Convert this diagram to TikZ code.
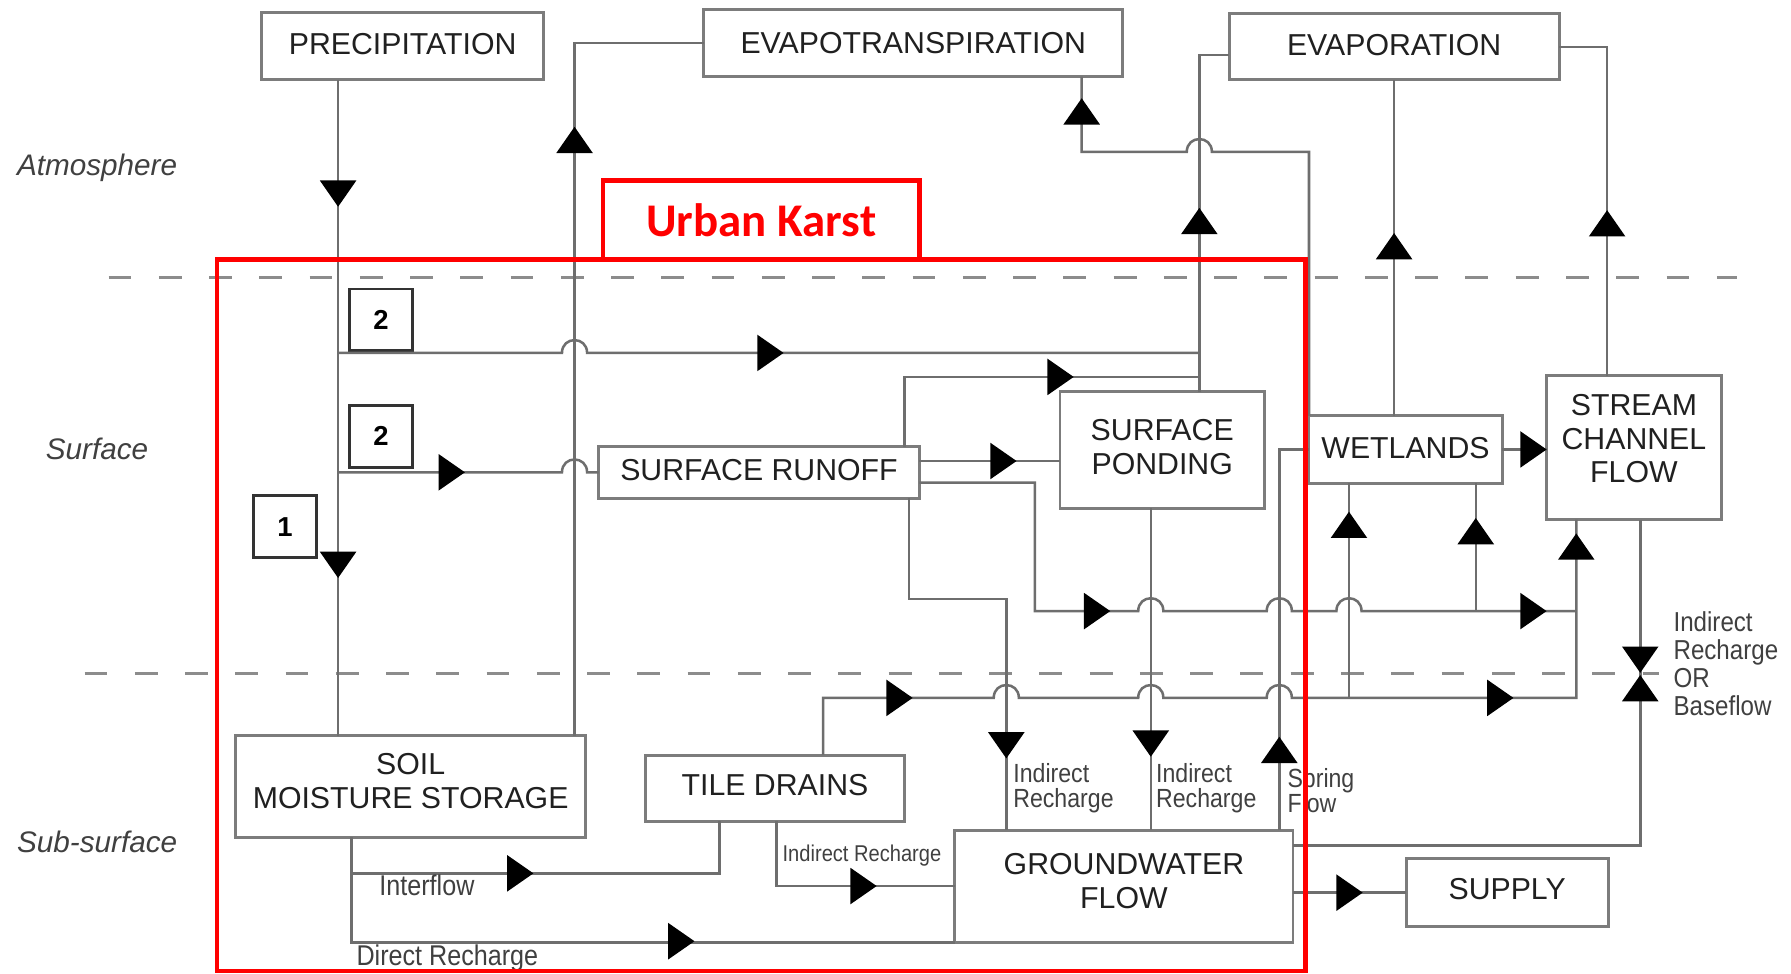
\documentclass[tikz,border=0pt]{standalone}
\usepackage{fontspec}
\setmainfont{Liberation Sans}
\newfontfamily\carl{Carlito}
\newfontfamily\narrowf[FakeStretch=0.88]{Liberation Sans}
\usetikzlibrary{calc}
\definecolor{lg}{HTML}{6E6E6E}
\definecolor{bg}{HTML}{7C7C7C}
\definecolor{tx}{HTML}{202020}
\definecolor{dg}{HTML}{8C8C8C}
\tikzset{
  box/.style={draw=bg, line width=2.6pt, fill=white, inner sep=0pt, outer sep=0pt, align=center, text=tx, font={\fontsize{26.5}{29.5}\selectfont}},
  numbox/.style={draw=black!80, line width=2.6pt, fill=white, inner sep=0pt, outer sep=0pt, minimum width=55pt, minimum height=54pt, font={\bfseries\fontsize{24}{24}\selectfont}},
  conn/.style={draw=lg, line width=2.2pt},
  lab/.style={text=black!75, inner sep=0pt, align=left, font={\narrowf\fontsize{23}{22}\selectfont}},
  zone/.style={text=black!75, inner sep=0pt, font={\itshape\fontsize{26}{28}\selectfont}},
  sepline/.style={draw=dg, line width=2.5pt, dash pattern=on 20pt off 24pt},
  hump/.style 2 args={insert path={-- (#1-11,#2) .. controls (#1-11,#2-15) and (#1+11,#2-15) .. (#1+11,#2)}},
  tR/.pic={\fill[black] (0,0) -- (-23,-16) -- (-23,16) -- cycle;},
  tD/.pic={\fill[black] (0,0) -- (-16,-23) -- (16,-23) -- cycle;},
  tU/.pic={\fill[black] (0,0) -- (-16,23) -- (16,23) -- cycle;},
}
\begin{document}
\begin{tikzpicture}[x=1pt,y=-1pt]
\useasboundingbox (0,0) rectangle (1568,852);
\fill[white] (0,0) rectangle (1568,852);

% layer separators
\draw[sepline] (95,243) -- (1521,243);
\draw[sepline] (74,590) -- (1452,590);

% zone labels
\node[zone] (zatm) at (85,147) {Atmosphere};
\node[zone] (zsur) at (85,393) {Surface};
\node[zone] (zsub) at (85,737) {Sub-surface};

% boxes
\node[box, minimum width=247pt, minimum height=59pt, text depth=4pt] (prec) at (352.5,40.5) {PRECIPITATION};
\node[box, minimum width=367pt, minimum height=59pt] (et) at (799.5,37.5) {EVAPOTRANSPIRATION};
\node[box, minimum width=289pt, minimum height=58pt, text depth=3pt] (evap) at (1220.5,41) {EVAPORATION};
\node[box, minimum width=307pt, minimum height=89pt, text depth=10pt] (soil) at (359.5,688.5) {SOIL\\MOISTURE STORAGE};
\node[box, minimum width=281pt, minimum height=45pt, text depth=5pt] (runoff) at (664.5,413.5) {SURFACE RUNOFF};
\node[box, minimum width=179pt, minimum height=102pt, text depth=6pt] (pond) at (1017.5,394) {SURFACE\\PONDING};
\node[box, minimum width=169pt, minimum height=59pt, text depth=2pt] (wet) at (1230.5,393.5) {WETLANDS};
\node[box, minimum width=153pt, minimum height=126pt, text depth=16pt] (stream) at (1430.5,392) {STREAM\\CHANNEL\\FLOW};
\node[box, minimum width=227pt, minimum height=58pt, text depth=5pt] (tile) at (678.5,690) {TILE DRAINS};
\node[box, minimum width=296pt, minimum height=98pt, text depth=9pt] (gw) at (984,776) {GROUNDWATER\\FLOW};
\node[box, minimum width=177pt, minimum height=59pt, text depth=6pt] (supply) at (1319.5,781.5) {SUPPLY};
\node[numbox] (n2a) at (333.5,280) {2};
\node[numbox] (n2b) at (333.5,382) {2};
\node[numbox] (n1) at (249.5,461) {1};

% reference coordinates
\coordinate (xP) at (296,0);
\coordinate (xE) at (503,0);
\coordinate (xR) at (792,0);
\coordinate (xV) at (1050,0);
\coordinate (xEt) at (947,0);
\coordinate (xS) at (1407,0);
\coordinate (xIR) at (881,0);
\coordinate (xRb) at (796,0);
\coordinate (xSP) at (1007.5,0);
\coordinate (xSF) at (1120,0);
\coordinate (xWa) at (1181,0);
\coordinate (xWb) at (1292,0);
\coordinate (xSc) at (1380,0);
\coordinate (xB) at (1436,0);
\coordinate (xT) at (720.6,0);
\coordinate (xTb) at (680,0);
\coordinate (xI) at (630,0);
\coordinate (xSo) at (307.6,0);
\coordinate (yD) at (0,403.6);
\coordinate (yE) at (0,422.6);
\coordinate (yBf) at (0,740);
\coordinate (yTI) at (0,775.7);
\coordinate (yIn) at (0,764.6);

% connectors
\draw[conn] (prec.south -| xP) -- (soil.north -| xP);
\draw[conn] (soil.north -| xE) -- (xE |- et.west) -- (et.west);
\draw[conn] (296,309) [hump={503}{309}] -- (1050,309);
\draw[conn] (runoff.north -| xR) |- (1050,330);
\draw[conn] (pond.north -| xV) |- ($(evap.west)+(0,7)$);
\draw[conn] (et.south -| xEt) -- (947,133) [hump={1050}{133}] -- (1146,133) -- (wet.north west);
\draw[conn] (wet.north -| evap.south) -- (evap.south);
\draw[conn] (stream.north -| xS) |- (evap.east);
\draw[conn] (xP |- runoff.west) [hump={503}{413.5}] -- (runoff.west);
\draw[conn] (runoff.east |- yD) -- (pond.west |- yD);
\draw[conn] (runoff.east |- yE) -| (906,535) [hump={1007.5}{535}] [hump={1120}{535}] [hump={1181}{535}] -- (1380,535);
\draw[conn] (1292,535) -- (wet.south -| xWb);
\draw[conn] (runoff.south -| xRb) |- (881,524.5) -- (gw.north -| xIR);
\draw[conn] (pond.south -| xSP) -- (gw.north -| xSP);
\draw[conn] (gw.north -| xSF) |- (wet.west);
\draw[conn] (wet.east) -- (stream.west |- wet.east);
\draw[conn] (tile.north -| xT) |- (870,611) [hump={881}{611}] [hump={1007.5}{611}] [hump={1120}{611}] -- (1380,611) -- (stream.south -| xSc);
\draw[conn] (1181,611) -- (wet.south -| xWa);
\draw[conn] (stream.south -| xB) |- (gw.east |- yBf);
\draw[conn] (gw.east |- supply.west) -- (supply.west);
\draw[conn] (tile.south -| xTb) |- (gw.west |- yTI);
\draw[conn] (soil.south -| xSo) |- (gw.south west);
\draw[conn] (xSo |- yIn) -| (tile.south -| xI);

% arrowheads
\pic at (296,181) {tD};
\pic at (296,506) {tD};
\pic at (503,111) {tU};
\pic at (686,309) {tR};
\pic at (940,330) {tR};
\pic at (1050,182) {tU};
\pic at (947,86) {tU};
\pic at (1220.5,204) {tU};
\pic at (1407,184) {tU};
\pic at (407,413.5) {tR};
\pic at (890,403.6) {tR};
\pic at (972,535) {tR};
\pic at (1354,535) {tR};
\pic at (1292,453.5) {tU};
\pic at (881,664) {tD};
\pic at (1007.5,662.5) {tD};
\pic at (1120,645) {tU};
\pic at (1354,393.5) {tR};
\pic at (799,611) {tR};
\pic at (1325,611) {tR};
\pic at (1181,448) {tU};
\pic at (1380,467) {tU};
\pic at (1436,589) {tD};
\pic at (1436,591) {tU};
\pic at (1193,781.5) {tR};
\pic at (767.5,775.7) {tR};
\pic at (608,824) {tR};
\pic at (467,764.6) {tR};

% flow labels
\node[lab, anchor=west] (l1) at (887,690) {Indirect\\Recharge};
\node[lab, anchor=west] (l2) at (1012,690) {Indirect\\Recharge};
\node[lab, anchor=west] (l3) at (1127,692) {Spring\\Flow};
\node[lab, anchor=base west, font={\narrowf\fontsize{20}{20}\selectfont}] (l4) at (685,754) {Indirect Recharge};
\node[lab, anchor=base west, font={\narrowf\fontsize{25}{25}\selectfont}] (l5) at (332,784) {Interflow};
\node[lab, anchor=base west, font={\narrowf\fontsize{25}{25}\selectfont}] (l6) at (312,845) {Direct Recharge};
\node[lab, anchor=west, font={\narrowf\fontsize{24}{24.3}\selectfont}] (l7) at (1465,581) {Indirect\\Recharge\\OR\\Baseflow};

% urban karst
\node[draw=red, line width=4pt, inner sep=0pt, outer sep=0pt, minimum width=953pt, minimum height=623pt] (karst) at (666.5,538.5) {};
\node[draw=red, line width=4pt, inner sep=0pt, outer sep=0pt, minimum width=277pt, minimum height=69pt, text=red, font={\carl\bfseries\fontsize{41}{41}\selectfont}] (uk) at (666.5,192.5) {Urban Karst};
\end{tikzpicture}
\end{document}
